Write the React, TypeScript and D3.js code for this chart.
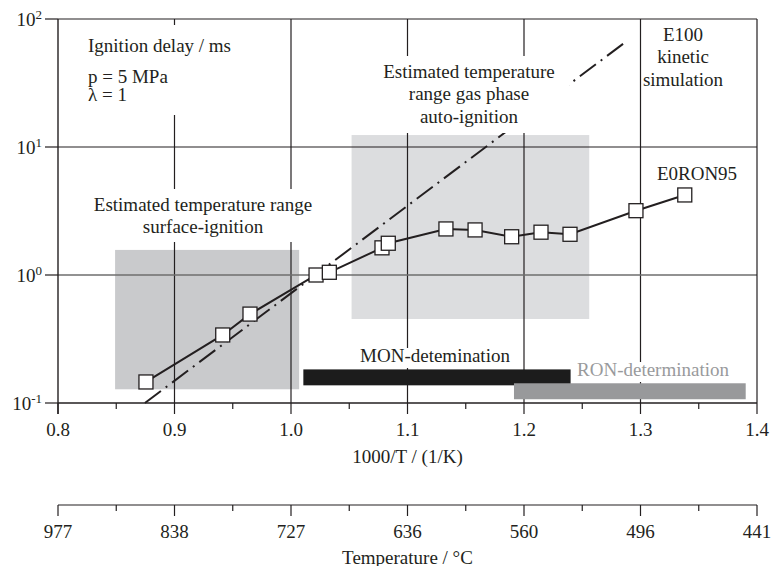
import React from "react";
import * as d3 from "d3";

// ---- data ----
const e0X = [0.8755, 0.9414, 0.9648, 1.0215, 1.0329, 1.0781, 1.0835, 1.133, 1.158, 1.1894, 1.2146, 1.2395, 1.2961, 1.338];
const e0Y = [0.146, 0.34, 0.495, 1.0, 1.05, 1.63, 1.77, 2.29, 2.25, 1.99, 2.16, 2.08, 3.18, 4.22];
const e100X = [0.8746, 1.288];
const e100Y = [0.1, 67];
const surfaceRangeX = [0.849, 1.007];
const surfaceRangeY = [0.128, 1.57];
const gasRangeX = [1.052, 1.256];
const gasRangeY = [0.453, 12.4];
const monBarX = [1.0106, 1.24];
const monBarY = [0.1374, 0.183];
const ronBarX = [1.1914, 1.3903];
const ronBarY = [0.107, 0.1426];
const xTicks = [0.8, 0.9, 1.0, 1.1, 1.2, 1.3, 1.4];
const xMinorTicks = [0.85, 0.95, 1.05, 1.15, 1.25, 1.35];
const yTicks = [0.1, 1, 10, 100];
const yTickExp = ["-1", "0", "1", "2"];
const tempTickLabels = ["977", "838", "727", "636", "560", "496", "441"];

const FONT = "'Liberation Serif', 'Times New Roman', serif";
const INK = "#231f20";

export default function App() {
  const x = d3.scaleLinear().domain([0.8, 1.4]).range([58, 757]);
  const y = d3.scaleLog().domain([0.1, 100]).range([403, 19]);
  const top = y(100);
  const bottom = y(0.1);
  const left = x(0.8);
  const right = x(1.4);

  const e0Pts: [number, number][] = e0X.map((v, i) => [v, e0Y[i]]);
  const e100Pts: [number, number][] = e100X.map((v, i) => [v, e100Y[i]]);
  const line = d3
    .line<[number, number]>()
    .x((d) => x(d[0]))
    .y((d) => y(d[1]));

  const rect = (rx: number[], ry: number[], fill: string, key: string) => (
    <rect
      key={key}
      x={x(rx[0])}
      y={y(ry[1])}
      width={x(rx[1]) - x(rx[0])}
      height={y(ry[0]) - y(ry[1])}
      fill={fill}
    />
  );

  const tempAxisY = 505;
  const sq = 14;

  return (
    <div>
      <style>{`body{margin:0;}`}</style>
      <svg width={771} height={566} style={{ display: "block" }} fontFamily={FONT}>
        <rect width={771} height={566} fill="#fff" />
        {/* shaded ranges */}
        {rect(surfaceRangeX, surfaceRangeY, "#c9cacc", "surf")}
        {rect(gasRangeX, gasRangeY, "#dcdddf", "gas")}

        {/* grid lines */}
        {xTicks.slice(1, -1).map((t) => (
          <line key={"gx" + t} x1={x(t)} x2={x(t)} y1={top} y2={bottom} stroke={INK} strokeWidth={1.2} />
        ))}
        <line x1={left} x2={right} y1={y(10)} y2={y(10)} stroke={INK} strokeWidth={1.2} />
        <line x1={left} x2={right} y1={y(1)} y2={y(1)} stroke="#6e6e6e" strokeWidth={1.4} />

        {/* E100 kinetic simulation */}
        <path d={line(e100Pts) || ""} fill="none" stroke={INK} strokeWidth={2} strokeDasharray="20,6,2,6" />

        {/* white text backgrounds */}
        <rect x={80} y={25} width={170} height={90} fill="#fff" />
        <rect x={372} y={56} width={197} height={77} fill="#fff" />
        <rect x={84} y={189} width={238} height={53} fill="#fff" />
        <rect x={352} y={348} width={165} height={20} fill="#fff" />
        <rect x={569} y={362} width={168} height={20} fill="#fff" />

        {/* frame */}
        <line x1={left} x2={right} y1={top} y2={top} stroke={INK} strokeWidth={1.2} />
        <line x1={right} x2={right} y1={top} y2={bottom} stroke={INK} strokeWidth={1.2} />
        <line x1={left} x2={left} y1={top} y2={bottom + 11} stroke={INK} strokeWidth={1.4} />
        <line x1={left} x2={right} y1={bottom} y2={bottom} stroke={INK} strokeWidth={1.4} />

        {/* x ticks */}
        {xTicks.map((t) => (
          <g key={"xt" + t}>
            <line x1={x(t)} x2={x(t)} y1={bottom} y2={bottom + 11} stroke={INK} strokeWidth={1.2} />
            <text x={x(t)} y={436} textAnchor="middle" fontSize={19} fill={INK}>
              {t.toFixed(1)}
            </text>
          </g>
        ))}
        {xMinorTicks.map((t) => (
          <line key={"xm" + t} x1={x(t)} x2={x(t)} y1={bottom} y2={bottom + 6} stroke={INK} strokeWidth={1.2} />
        ))}
        <text x={x(1.1)} y={463} textAnchor="middle" fontSize={19} fill={INK}>
          1000/T / (1/K)
        </text>

        {/* y ticks */}
        {yTicks.map((t, i) => (
          <g key={"yt" + t}>
            <line x1={left - 13} x2={left} y1={y(t)} y2={y(t)} stroke={INK} strokeWidth={1.2} />
            <text x={42} y={y(t) + 6.5} textAnchor="end" fontSize={19} fill={INK}>
              10
              <tspan fontSize={13} dy={-7}>
                {yTickExp[i]}
              </tspan>
            </text>
          </g>
        ))}

        {/* annotations */}
        <g fontSize={19} fill={INK}>
          <text x={88} y={52}>Ignition delay / ms</text>
          <text x={88} y={83}>p = 5 MPa</text>
          <text x={88} y={101}>λ = 1</text>
          <text textAnchor="middle">
            <tspan x={469} y={78}>Estimated temperature</tspan>
            <tspan x={469} y={100}>range gas phase</tspan>
            <tspan x={469} y={123}>auto-ignition</tspan>
          </text>
          <text textAnchor="middle">
            <tspan x={683} y={41}>E100</tspan>
            <tspan x={683} y={63}>kinetic</tspan>
            <tspan x={683} y={86}>simulation</tspan>
          </text>
          <text textAnchor="middle">
            <tspan x={203} y={211}>Estimated temperature range</tspan>
            <tspan x={203} y={233}>surface-ignition</tspan>
          </text>
          <text x={697} y={180} textAnchor="middle">E0RON95</text>
          <text x={435} y={362} textAnchor="middle">MON-detemination</text>
          <text x={653} y={376} textAnchor="middle" fill="#999a9c">RON-determination</text>
        </g>

        {/* determination bars */}
        {rect(monBarX, monBarY, "#1c1c1c", "mon")}
        {rect(ronBarX, ronBarY, "#98999b", "ron")}

        {/* E0RON95 data */}
        <path d={line(e0Pts) || ""} fill="none" stroke={INK} strokeWidth={2} />
        {e0Pts.map((d, i) => (
          <rect
            key={"p" + i}
            x={x(d[0]) - sq / 2}
            y={y(d[1]) - sq / 2}
            width={sq}
            height={sq}
            fill="#fff"
            stroke={INK}
            strokeWidth={1.3}
          />
        ))}

        {/* temperature axis */}
        <line x1={left} x2={right} y1={tempAxisY} y2={tempAxisY} stroke={INK} strokeWidth={1.2} />
        {xTicks.map((t, i) => (
          <g key={"tt" + t}>
            <line x1={x(t)} x2={x(t)} y1={tempAxisY} y2={tempAxisY + 11} stroke={INK} strokeWidth={1.2} />
            <text x={x(t)} y={538} textAnchor="middle" fontSize={19} fill={INK}>
              {tempTickLabels[i]}
            </text>
          </g>
        ))}
        {xMinorTicks.map((t) => (
          <line key={"tm" + t} x1={x(t)} x2={x(t)} y1={tempAxisY} y2={tempAxisY + 6} stroke={INK} strokeWidth={1.2} />
        ))}
        <text x={x(1.1)} y={564} textAnchor="middle" fontSize={19} fill={INK}>
          Temperature / °C
        </text>
      </svg>
    </div>
  );
}
